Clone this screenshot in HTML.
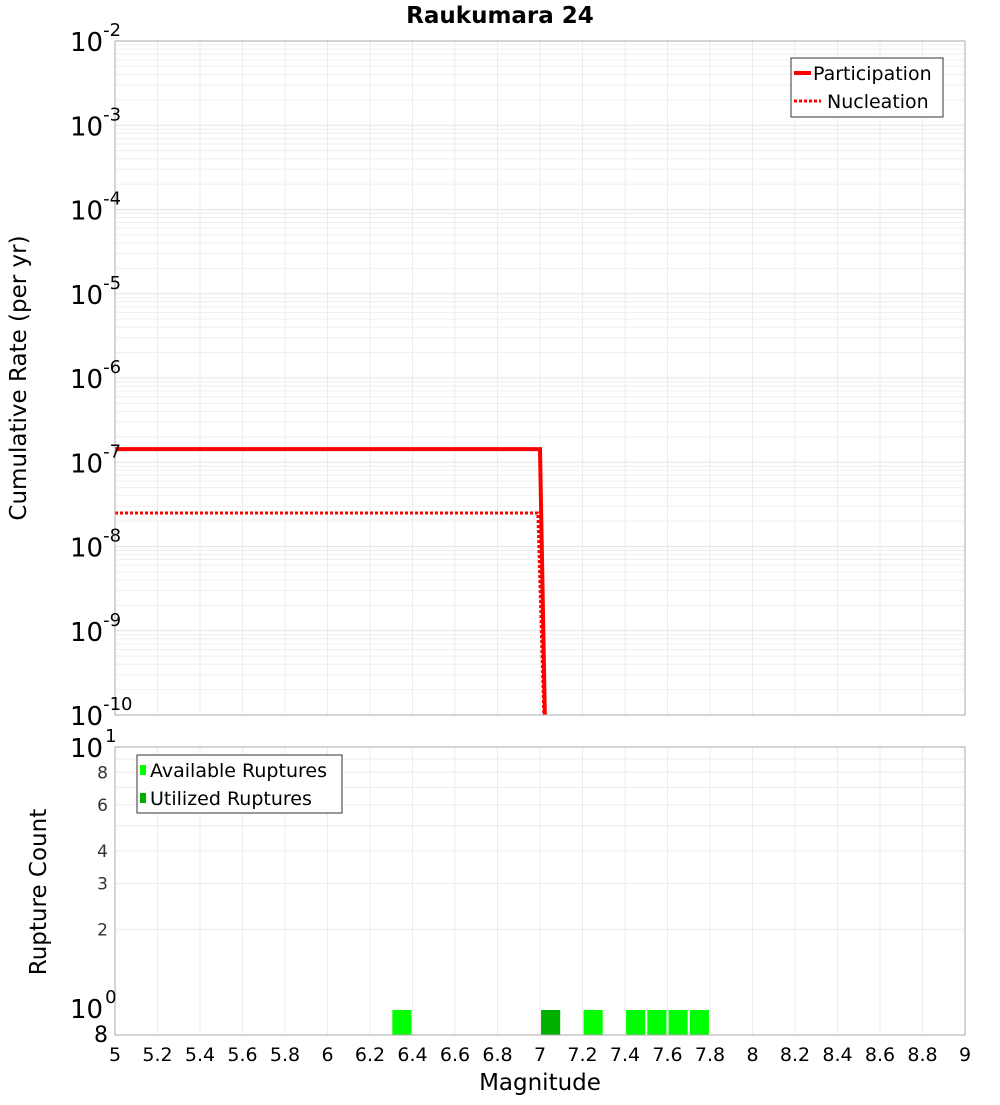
<!DOCTYPE html>
<html><head><meta charset="utf-8"><style>
body{margin:0;background:#fff;}
svg text{font-family:"DejaVu Sans","Liberation Sans",sans-serif;}
</style></head><body>
<svg id="c" width="1000" height="1100" xmlns="http://www.w3.org/2000/svg">
<defs>
<clipPath id="tc"><rect x="115" y="41" width="850" height="674"/></clipPath>
<clipPath id="bc"><rect x="115" y="747" width="850" height="288"/></clipPath>
</defs>
<text x="500" y="23" text-anchor="middle" font-size="23" font-weight="bold">Raukumara 24</text>
<text transform="translate(26,378) rotate(-90)" text-anchor="middle" font-size="23">Cumulative Rate (per yr)</text>
<text transform="translate(46,892) rotate(-90)" text-anchor="middle" font-size="23">Rupture Count</text>
<text x="540" y="1090" text-anchor="middle" font-size="23">Magnitude</text>
<g id="grid"></g>
<g id="marks"></g>
<g id="axes"></g>
<g>
<rect x="791" y="58" width="152" height="59" fill="#fff" stroke="#333"/>
<line x1="794" y1="73" x2="811" y2="73" stroke="red" stroke-width="4"/>
<text x="813" y="80" font-size="19">Participation</text>
<line x1="794" y1="101" x2="821" y2="101" stroke="red" stroke-width="3" stroke-dasharray="3,2"/>
<text x="827" y="108" font-size="19">Nucleation</text>
</g>
<g>
<rect x="137" y="755" width="205" height="58" fill="#fff" stroke="#333"/>
<rect x="140" y="765" width="6" height="10" fill="#00ff00"/>
<text x="150" y="777" font-size="19">Available Ruptures</text>
<rect x="140" y="793" width="6" height="10" fill="#00b000"/>
<text x="150" y="805" font-size="19">Utilized Ruptures</text>
</g>
</svg>
<script>
const partMags=[5.0,7.0,7.03];
const partRates=[1.43e-7,1.43e-7,1e-11];
const nuclMags=[5.0,6.99,7.03];
const nuclRates=[2.5e-8,2.5e-8,1e-11];
const availMags=[6.35,7.25,7.45,7.55,7.65,7.75];
const availCounts=[1,1,1,1,1,1];
const usedMags=[7.05];
const usedCounts=[1];
const xTicks=[5,5.2,5.4,5.6,5.8,6,6.2,6.4,6.6,6.8,7,7.2,7.4,7.6,7.8,8,8.2,8.4,8.6,8.8,9];
const topExps=[-2,-3,-4,-5,-6,-7,-8,-9,-10];
const botTicks=[8,6,4,3,2];

const NS="http://www.w3.org/2000/svg";
const X0=115,X1=965;
const xs=m=>X0+(m-5)/4*(X1-X0);
const ty=v=>41+(-2-Math.log10(v))*(674/8);
const by=v=>1008-Math.log10(v)*261;
function mk(p,tag,a){const e=document.createElementNS(NS,tag);for(const k in a)e.setAttribute(k,a[k]);p.appendChild(e);return e;}
const grid=document.getElementById('grid'),marks=document.getElementById('marks'),axes=document.getElementById('axes');
for(let d=-10;d<-2;d++)for(let k=1;k<10;k++){const y=ty(k*Math.pow(10,d));
 const l=mk(grid,'line',{x1:X0,x2:X1,y1:y,y2:y,stroke:k==1?'#e4e4e4':'#efefef','stroke-width':1});
 
 }
for(let k=2;k<10;k++){const y=by(k);if(y<747)continue;
 const l=mk(grid,'line',{x1:X0,x2:X1,y1:y,y2:y,stroke:'#ececec'});
 
 }
xTicks.forEach(m=>{const x=xs(m);
 const a=mk(grid,'line',{x1:x,x2:x,y1:41,y2:715,stroke:'#ececec'});
 
 
 const b=mk(grid,'line',{x1:x,x2:x,y1:747,y2:1035,stroke:'#ececec'});
 
 
 const t=mk(axes,'text',{x:x,y:1061,'text-anchor':'middle','font-size':19});t.textContent=String(m);
 
 });
const f1=mk(axes,'rect',{x:X0,y:41,width:850,height:674,fill:'none',stroke:'#aaa'});


const f2=mk(axes,'rect',{x:X0,y:747,width:850,height:288,fill:'none',stroke:'#aaa'});


topExps.forEach(e=>{const y=ty(Math.pow(10,e));
 const t=mk(axes,'text',{x:70,y:y+10,'font-size':26});t.textContent='10';
 
 
 const s=mk(axes,'tspan',{dy:-15,'font-size':18});s.textContent=String(e);t.appendChild(s);});
[[10,'1'],[1,'0']].forEach(([v,e])=>{const y=by(v);
 const t=mk(axes,'text',{x:70,y:y+10,'font-size':26});t.textContent='10';
 
 
 const s=mk(axes,'tspan',{dy:-15,dx:2,'font-size':18});s.textContent=e;t.appendChild(s);});
botTicks.forEach(v=>{const t=mk(axes,'text',{x:108,y:by(v)+6,'text-anchor':'end','font-size':17,fill:'#333'});t.textContent=String(v);
 
 });
const t8=mk(axes,'text',{x:108,y:1042,'text-anchor':'end','font-size':22});t8.textContent='8';


const tg=mk(marks,'g',{'clip-path':'url(#tc)'});
const pp=mk(tg,'polyline',{points:partMags.map((m,i)=>xs(m)+','+ty(partRates[i])).join(' '),fill:'none',stroke:'red','stroke-width':4});


const np=mk(tg,'polyline',{points:nuclMags.map((m,i)=>xs(m)+','+ty(nuclRates[i])).join(' '),fill:'none',stroke:'red','stroke-width':3,'stroke-dasharray':'3,2'});


const bg=mk(marks,'g',{'clip-path':'url(#bc)'});
const bw=0.09;
availMags.forEach((m,i)=>{const y=by(availCounts[i]);
 const r=mk(bg,'rect',{x:xs(m-bw/2),y:y+2,width:xs(m+bw/2)-xs(m-bw/2),height:1035-y-2,fill:'#00ff00'});
 
 });
usedMags.forEach((m,i)=>{const y=by(usedCounts[i]);
 const r=mk(bg,'rect',{x:xs(m-bw/2),y:y+2,width:xs(m+bw/2)-xs(m-bw/2),height:1035-y-2,fill:'#00b000'});
 
 });
</script>
</body></html>
